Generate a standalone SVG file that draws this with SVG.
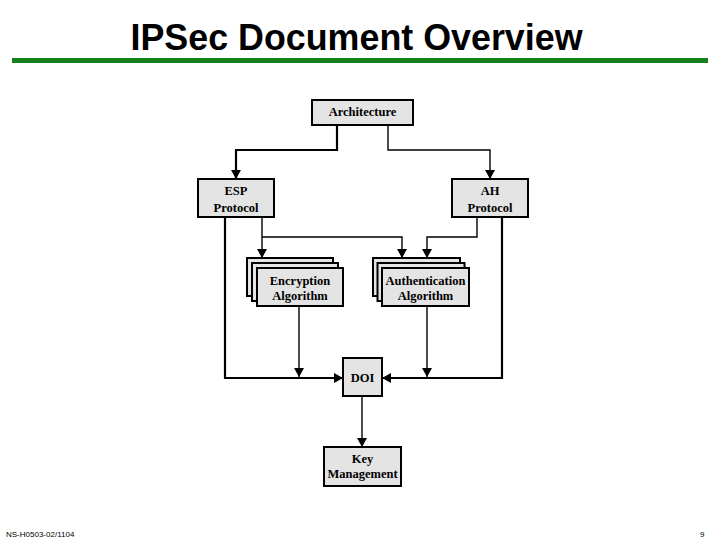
<svg xmlns="http://www.w3.org/2000/svg" width="720" height="540" viewBox="0 0 720 540">
<defs>
<marker id="arr" markerUnits="userSpaceOnUse" markerWidth="10" markerHeight="11" refX="9" refY="5" orient="auto">
<path d="M0,0 L9,5 L0,10 z" fill="#000"/>
</marker>
</defs>
<style>
.box{fill:#e4e4e4;stroke:#000;stroke-width:2}
.lbl{font-family:"Liberation Serif","Times New Roman",serif;font-weight:bold;font-size:12.5px;text-anchor:middle;fill:#000}
.thick{fill:none;stroke:#000;stroke-width:2.2}
.thin{fill:none;stroke:#000;stroke-width:1.4}
.foot{font-family:"Liberation Sans",Arial,sans-serif;font-size:8px;fill:#000}
</style>
<rect width="720" height="540" fill="#fff"/>
<text x="356.5" y="50" font-family="'Liberation Sans',Arial,sans-serif" font-weight="bold" font-size="36" text-anchor="middle" textLength="452" lengthAdjust="spacingAndGlyphs">IPSec Document Overview</text>
<rect x="12" y="58" width="696" height="5" fill="#17801a"/>

<g id="connectors">
<path class="thick" d="M337,125 V150 H236 V179" marker-end="url(#arr)"/>
<path class="thin" d="M388,125 V150 H490 V179" marker-end="url(#arr)"/>
<path class="thin" d="M262,217 V258" marker-end="url(#arr)"/>
<path class="thin" d="M262,237 H402 V258" marker-end="url(#arr)"/>
<path class="thin" d="M477,217 V237 H427 V258" marker-end="url(#arr)"/>
<path class="thick" d="M225,217 V378 H343" marker-end="url(#arr)"/>
<path class="thick" d="M502,217 V378 H382" marker-end="url(#arr)"/>
<path class="thin" d="M299,307 V377" marker-end="url(#arr)"/>
<path class="thin" d="M427,307 V377" marker-end="url(#arr)"/>
<path class="thin" d="M362,396 V447" marker-end="url(#arr)"/>
</g>

<g id="architecture">
<rect class="box" x="312" y="100" width="101" height="25"/>
<text class="lbl" x="362.5" y="115.5">Architecture</text>
</g>
<g id="esp">
<rect class="box" x="198" y="179" width="76" height="38"/>
<text class="lbl" x="236" y="195">ESP</text>
<text class="lbl" x="236" y="211.5">Protocol</text>
</g>
<g id="ah">
<rect class="box" x="452" y="179" width="76" height="38"/>
<text class="lbl" x="490" y="195">AH</text>
<text class="lbl" x="490" y="211.5">Protocol</text>
</g>
<g id="encryption">
<rect class="box" x="247" y="258" width="86" height="38"/>
<rect class="box" x="252" y="263" width="86" height="38"/>
<rect class="box" x="257" y="268" width="86" height="38"/>
<text class="lbl" x="300" y="284.5">Encryption</text>
<text class="lbl" x="300" y="300">Algorithm</text>
</g>
<g id="authentication">
<rect class="box" x="373" y="258" width="87" height="38"/>
<rect class="box" x="377.5" y="263" width="87" height="38"/>
<rect class="box" x="382" y="268" width="87" height="38"/>
<text class="lbl" x="425.5" y="284.5">Authentication</text>
<text class="lbl" x="425.5" y="300">Algorithm</text>
</g>
<g id="doi">
<rect class="box" x="343" y="358" width="39" height="38"/>
<text class="lbl" x="362.5" y="381.5">DOI</text>
</g>
<g id="key">
<rect class="box" x="324" y="447" width="77" height="39"/>
<text class="lbl" x="362.5" y="462.5">Key</text>
<text class="lbl" x="362.5" y="478">Management</text>
</g>

<text class="foot" x="6" y="537">NS-H0503-02/1104</text>
<text class="foot" x="700" y="537">9</text>
</svg>
